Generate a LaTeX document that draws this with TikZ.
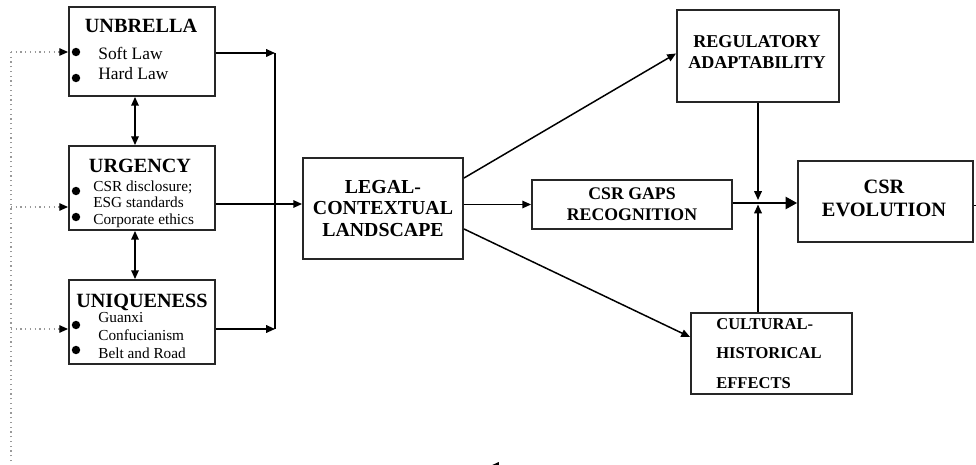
\documentclass[tikz,border=0pt]{standalone}
\usepackage{fontspec}
\setmainfont{Liberation Serif}
\usetikzlibrary{arrows.meta,positioning}
\tikzset{
  caja/.style={
    draw=black!85,
    line width=1.1pt,
    fill=white,
    inner sep=0pt,
    align=center
  },
  titulo/.style={
    font=\fontsize{11.5}{13}\selectfont\bfseries,
    inner sep=0pt,
    anchor=base
  },
  item/.style={
    font=\fontsize{8.7}{10}\selectfont,
    inner sep=0pt,
    anchor=base west
  },
  punto/.style={
    circle,
    fill=black,
    inner sep=0pt,
    minimum size=4.8pt
  },
  flecha/.style={
    -{Triangle[length=5pt,width=4.3pt]},
    line width=0.85pt
  },
  grande/.style={
    -{Triangle[length=6.5pt,width=7pt]},
    line width=0.85pt
  },
  doble/.style={
    {Triangle[length=5pt,width=4.3pt]}-{Triangle[length=5pt,width=4.3pt]},
    line width=0.85pt
  },
  punteada/.style={
    dotted,
    black!40,
    line width=0.7pt
  }
}

\begin{document}
\begin{tikzpicture}[x=0.02cm,y=-0.02cm]
\useasboundingbox (0,0) rectangle (976,465);
% bloques de la izquierda
\node[caja,minimum width=2.92cm,minimum height=1.78cm] (unb) at (142,51.5) {};
\node[caja,minimum width=2.92cm,minimum height=1.68cm] (urg) at (142,188) {};
\node[caja,minimum width=2.92cm,minimum height=1.68cm] (uni) at (142,322) {};
\node[titulo] (unbT) at (141,33) {UNBRELLA};
\node[punto] (unbP1) at (76,52) {};
\node[punto] (unbP2) at (76,78) {};
\node[item,font=\fontsize{9.9}{11}\selectfont] (unbA) at (98,60) {Soft Law};
\node[item,font=\fontsize{9.9}{11}\selectfont] (unbB) at (98,80) {Hard Law};
\node[titulo] (urgT) at (140,173) {URGENCY};
\node[punto] (urgP1) at (76,191) {};
\node[punto] (urgP2) at (76,217) {};
\node[item] (urgA) at (93,192) {CSR disclosure;};
\node[item] (urgB) at (93,208) {ESG standards};
\node[item] (urgC) at (93,225) {Corporate ethics};
\node[titulo] (uniT) at (142,308) {UNIQUENESS};
\node[punto] (uniP1) at (76,325) {};
\node[punto] (uniP2) at (76,350) {};
\node[item] (uniA) at (98,323) {Guanxi};
\node[item] (uniB) at (98,341) {Confucianism};
\node[item] (uniC) at (98,358) {Belt and Road};
% bloques del centro y la derecha
\node[caja,minimum width=3.2cm,minimum height=2.02cm,font=\fontsize{11.3}{12.5}\selectfont\bfseries] (legal) at (383,208.5) {LEGAL-\\CONTEXTUAL\\LANDSCAPE};
\node[caja,minimum width=4cm,minimum height=0.98cm,font=\fontsize{10.1}{12}\selectfont\bfseries] (gaps) at (632,204.5) {CSR GAPS\\RECOGNITION};
\node[caja,minimum width=3.24cm,minimum height=1.84cm] (reg) at (758,56) {};
\node[font=\fontsize{10.3}{12}\selectfont\bfseries,align=center,inner sep=0pt] (regT) at (757,52) {REGULATORY\\ADAPTABILITY};
\node[caja,minimum width=3.5cm,minimum height=1.62cm] (evo) at (885.5,201.5) {};
\node[font=\fontsize{11.6}{13}\selectfont\bfseries,align=center,inner sep=0pt] (evoT) at (884,198.5) {CSR\\EVOLUTION};
\node[caja,minimum width=3.22cm,minimum height=1.62cm] (cult) at (771.5,353.5) {};
\node[font=\fontsize{9.4}{17}\selectfont\bfseries,align=left,inner sep=0pt,anchor=west] (cultT) at (716,353.5) {CULTURAL-\\HISTORICAL\\EFFECTS};
% conectores
\coordinate (jArr) at (275,53);
\coordinate (jAb) at (275,329);
\coordinate (cruce) at (758,203);
\draw[flecha] (unb.east |- jArr) -- (jArr);
\draw[line width=0.85pt] (jArr) -- (jAb);
\draw[flecha] (uni.east |- jAb) -- (jAb);
\draw[flecha] (urg.east |- 0,204) -- (legal.west |- 0,204);
\draw[doble] ([xshift=-0.14cm]unb.south) -- ([xshift=-0.14cm]urg.north);
\draw[doble] ([xshift=-0.14cm]urg.south) -- ([xshift=-0.14cm]uni.north);
\draw[flecha] ([yshift=-0.42cm]legal.north east) -- ([yshift=0.05cm]reg.west);
\draw[flecha] (gaps.west -| legal.east) -- (gaps.west);
\draw[flecha] ([yshift=0.62cm]legal.south east) -- ([yshift=0.33cm]cult.west);
\draw[grande] (gaps.east |- cruce) -- (evo.west |- cruce);
\draw[flecha] (reg.south -| cruce) -- ([yshift=0.06cm]cruce);
\draw[flecha] (cult.north -| cruce) -- ([yshift=-0.03cm]cruce);
% retorno
\coordinate (retD) at (990,466);
\coordinate (retM) at (490,466);
\coordinate (retI) at (11,466);
\coordinate (retS) at (11,52);
\draw[flecha] ([yshift=-0.08cm]evo.east) -| (retD) -- (retM);
\draw[punteada] (retM) -- (retI) -- (retS);
\draw[punteada,-{Triangle[length=5pt,width=4.3pt,color=black]}] (retS) -- (unb.west |- retS);
\draw[punteada,-{Triangle[length=5pt,width=4.3pt,color=black]}] (retI |- 0,207) -- (urg.west |- 0,207);
\draw[punteada,-{Triangle[length=5pt,width=4.3pt,color=black]}] (retI |- 0,329) -- (uni.west |- 0,329);
\end{tikzpicture}
\end{document}
